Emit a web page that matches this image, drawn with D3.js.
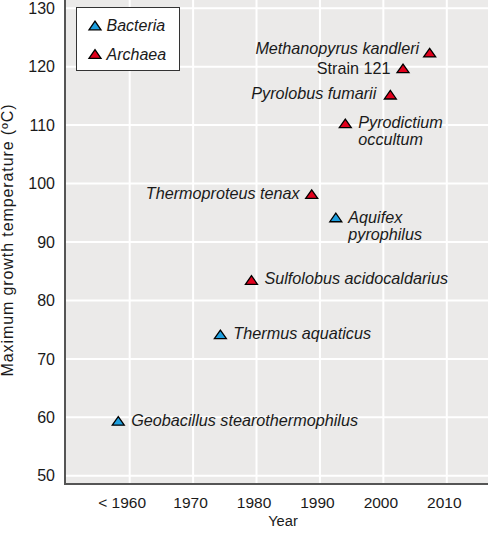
<!DOCTYPE html>
<html><head><meta charset="utf-8">
<script src="https://cdn.jsdelivr.net/npm/d3@7"></script>
<style>body{margin:0;background:#fff}svg{display:block}text{font-family:"Liberation Sans",Arial,Helvetica,sans-serif;fill:#1a1a1a}</style>
</head><body><svg id="c" width="488" height="537"></svg>
<script>
// Data
const names = ["Geobacillus stearothermophilus","Thermus aquaticus","Sulfolobus acidocaldarius","Aquifex\npyrophilus","Thermoproteus tenax","Pyrodictium\noccultum","Pyrolobus fumarii","Strain 121","Methanopyrus kandleri"];
const domains = ["Bacteria","Bacteria","Archaea","Bacteria","Archaea","Archaea","Archaea","Archaea","Archaea"];
const years = [1958.2,1974.3,1979.2,1992.5,1988.7,1994.0,2001.1,2003.1,2007.3];
const temps = [59.4,74.2,83.5,94.2,98.2,110.3,115.2,119.7,122.4];
const italic = [true,true,true,true,true,true,true,false,true];
const xTicks = [1960,1970,1980,1990,2000,2010];
const xTickLabels = ["< 1960","1970","1980","1990","2000","2010"];
const yTicks = [50,60,70,80,90,100,110,120,130];
const legendItems = ["Bacteria","Archaea"];
// label placement (layout only)
const labelDx = [13,13,13,12.5,-12,13,-14,-12.5,-10.5];
const labelDy = [5.5,5,4.5,5.5,5,4.5,4,5.5,1];

const colors = {Bacteria:"#1e9fdf", Archaea:"#e1001c"};
const svg = d3.select("#c");
const m = {l:65, t:0, r:488, b:484};
const x = d3.scaleLinear().domain([1949.8,2016.5]).range([m.l,m.r]);
const y = d3.scaleLinear().domain([48.6,131.4]).range([m.b,m.t]);

svg.append("rect").attr("x",m.l).attr("y",m.t).attr("width",m.r-m.l).attr("height",m.b-m.t).attr("fill","#ebeae9");
// grid
svg.append("g").selectAll("line").data(xTicks).join("line")
  .attr("x1",d=>x(d)).attr("x2",d=>x(d)).attr("y1",m.t).attr("y2",m.b)
  .attr("stroke","#fff").attr("stroke-width",2);
svg.append("g").selectAll("line").data(yTicks).join("line")
  .attr("x1",m.l).attr("x2",m.r).attr("y1",d=>y(d)).attr("y2",d=>y(d))
  .attr("stroke","#fff").attr("stroke-width",2);

// axes
const yAxis = d3.axisLeft(y).tickValues(yTicks).tickSize(0).tickPadding(10);
const gy = svg.append("g").attr("transform",`translate(${m.l},0)`).call(yAxis);
gy.select(".domain").remove();
gy.selectAll("text").style("font-size","16px").style("font-family","Liberation Sans, Arial, sans-serif").attr("fill","#1a1a1a");
const xAxis = d3.axisBottom(x).tickValues(xTicks).tickSize(0).tickPadding(12.5).tickFormat((d,i)=>xTickLabels[i]);
const gx = svg.append("g").attr("transform",`translate(0,${m.b})`).call(xAxis);
gx.select(".domain").remove();
gx.selectAll("text").style("font-size","15.5px").style("font-family","Liberation Sans, Arial, sans-serif").attr("fill","#1a1a1a")
  .attr("dx",(d,i)=>i===0?-8:-3);
svg.append("line").attr("x1",m.l).attr("x2",m.l).attr("y1",m.t).attr("y2",m.b+1).attr("stroke","#555").attr("stroke-width",2);
svg.append("line").attr("x1",m.l).attr("x2",m.r).attr("y1",m.b).attr("y2",m.b).attr("stroke","#555").attr("stroke-width",2);

svg.append("text").attr("transform",`translate(12.5,240) rotate(-90)`).attr("text-anchor","middle")
  .style("font-size","16px").style("letter-spacing","0.9px").text("Maximum growth temperature (ºC)");
svg.append("text").attr("x",283).attr("y",526).attr("text-anchor","middle").style("font-size","14.7px").text("Year");

// points
const tri = "M0,-4.3L6,4.3L-6,4.3Z";
const pts = d3.range(names.length);
svg.append("g").selectAll("path").data(pts).join("path")
  .attr("d",tri).attr("transform",i=>`translate(${x(years[i])},${y(temps[i])})`)
  .attr("fill",i=>colors[domains[i]]).attr("stroke","#000").attr("stroke-width",1.3).attr("stroke-linejoin","miter");

// labels
const lg = svg.append("g");
pts.forEach(i=>{
  const lines = names[i].split("\n");
  const px = x(years[i]) + labelDx[i], py = y(temps[i]) + labelDy[i];
  const t = lg.append("text").attr("x", px).attr("y", py)
    .attr("text-anchor", labelDx[i]>0?"start":"end").style("font-size","16.2px")
    .style("font-style", italic[i]?"italic":"normal");
  lines.forEach((ln,k)=>t.append("tspan").attr("x", px).attr("dy", k===0?0:17.5).text(ln));
});

// legend
const leg = svg.append("g");
leg.append("rect").attr("x",76.5).attr("y",7.5).attr("width",103).attr("height",63).attr("fill","#fff").attr("stroke","#333").attr("stroke-width",1);
legendItems.forEach((k,i)=>{
  const cy = 25.5 + i*28.5;
  leg.append("path").attr("d",tri).attr("transform",`translate(95,${cy})`).attr("fill",colors[k]).attr("stroke","#000").attr("stroke-width",1.3);
  leg.append("text").attr("x",106.5).attr("y",cy+5.8).style("font-size","16px").style("font-style","italic").text(k);
});
</script></body></html>
